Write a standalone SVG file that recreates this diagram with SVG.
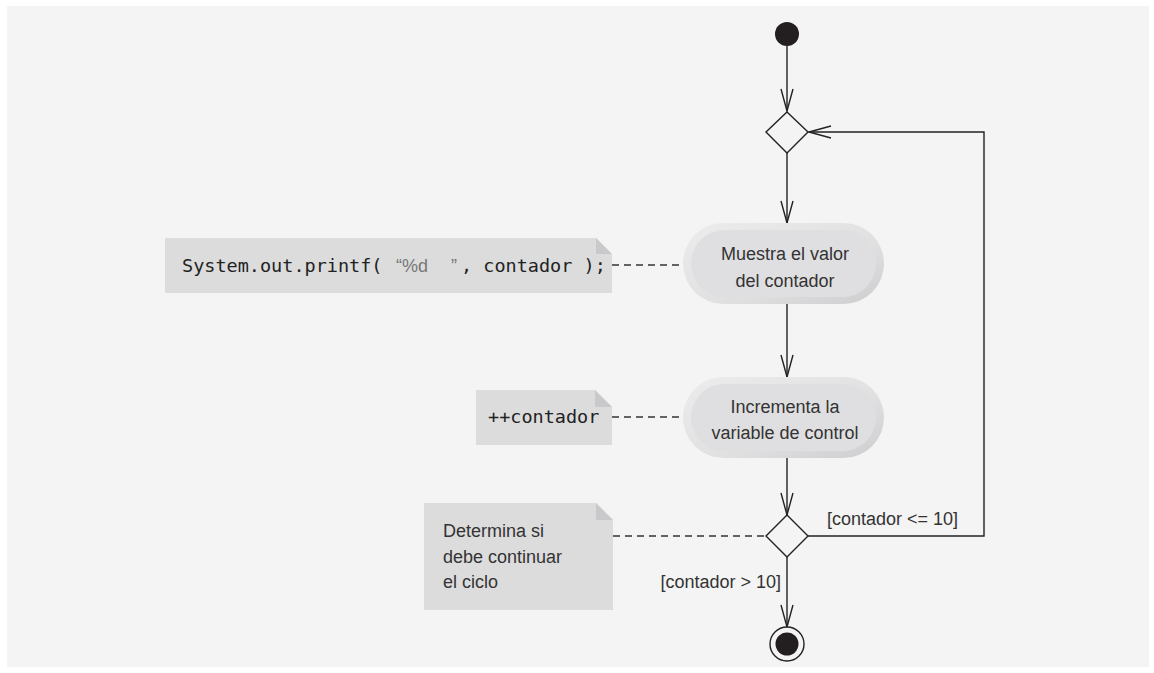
<svg xmlns="http://www.w3.org/2000/svg" width="1154" height="673" viewBox="0 0 1154 673">
<style>
.ln{fill:none;stroke:#222;stroke-width:1.4}
.dash{fill:none;stroke:#333;stroke-width:1.3;stroke-dasharray:7 5}
.note{fill:#dcdcdd}
.fold{fill:#c9c9cb}
.lbl{font-family:"Liberation Sans",Arial,sans-serif;font-size:18px;fill:#333}
.code{font-family:"DejaVu Sans Mono",monospace;font-size:18.5px;fill:#222}
.q{font-family:"Liberation Sans",Arial,sans-serif;font-size:18px;fill:#777}
.dia{fill:#f4f4f4;stroke:#222;stroke-width:1.4}
</style>
<defs>
<marker id="v" viewBox="0 0 24 14" refX="23" refY="7" markerWidth="24" markerHeight="14" markerUnits="userSpaceOnUse" orient="auto">
<path d="M1,1 L23,7 L1,13" fill="none" stroke="#222" stroke-width="1.4"/>
</marker>
<linearGradient id="ring" x1="0" y1="0" x2="1" y2="1">
<stop offset="0" stop-color="#ececec"/>
<stop offset="0.6" stop-color="#e0e0e1"/>
<stop offset="1" stop-color="#cdcdcf"/>
</linearGradient>
</defs>
<rect x="7" y="6" width="1142" height="661" fill="#f4f4f4"/>

<g id="connectors">
<line class="ln" x1="787" y1="46" x2="787" y2="111" marker-end="url(#v)"/>
<line class="ln" x1="787" y1="153" x2="787" y2="223" marker-end="url(#v)"/>
<line class="ln" x1="787" y1="304" x2="787" y2="377" marker-end="url(#v)"/>
<line class="ln" x1="787" y1="458" x2="787" y2="515" marker-end="url(#v)"/>
<line class="ln" x1="787" y1="556" x2="787" y2="627" marker-end="url(#v)"/>
<polyline class="ln" points="808,536 984,536 984,132 809,132" marker-end="url(#v)"/>
<line class="dash" x1="612" y1="265" x2="683" y2="265"/>
<line class="dash" x1="612" y1="417" x2="683" y2="417"/>
<line class="dash" x1="613" y1="536" x2="766" y2="536"/>
<text class="lbl" x="827" y="525">[contador &lt;= 10]</text>
<text class="lbl" x="781" y="588" text-anchor="end">[contador &gt; 10]</text>
</g>

<g id="start">
<circle cx="787" cy="34" r="12" fill="#231f20"/>
</g>

<g id="merge">
<polygon class="dia" points="787,112 808,132 787,153 766,132"/>
</g>

<g id="node-muestra">
<rect x="683" y="223" width="201" height="81" rx="40.5" fill="url(#ring)"/>
<rect x="691" y="230" width="185" height="67" rx="33.5" fill="#dfdfe1"/>
<text class="lbl" x="785" y="260" text-anchor="middle">Muestra el valor</text>
<text class="lbl" x="785" y="287" text-anchor="middle">del contador</text>
</g>

<g id="node-incrementa">
<rect x="683" y="377" width="201" height="81" rx="40.5" fill="url(#ring)"/>
<rect x="691" y="384" width="185" height="67" rx="33.5" fill="#dfdfe1"/>
<text class="lbl" x="785" y="413" text-anchor="middle">Incrementa la</text>
<text class="lbl" x="785" y="439" text-anchor="middle">variable de control</text>
</g>

<g id="decision">
<polygon class="dia" points="787,515 808,536 787,557 766,536"/>
</g>

<g id="end">
<circle cx="787" cy="644" r="17" fill="#f4f4f4" stroke="#222" stroke-width="1.4"/>
<circle cx="787" cy="644" r="11.5" fill="#231f20"/>
</g>

<g id="note-printf">
<path class="note" d="M165,238 H596 L612,254 V293 H165 Z"/>
<path class="fold" d="M596,238 L612,254 H596 Z"/>
<text class="code" x="182" y="272">System.out.printf(<tspan x="396" class="q">“%d</tspan><tspan x="451" class="q">”</tspan><tspan x="461">, contador );</tspan></text>
</g>

<g id="note-incr">
<path class="note" d="M476,390 H595 L612,407 V445 H476 Z"/>
<path class="fold" d="M595,390 L612,407 H595 Z"/>
<text class="code" x="488" y="423">++contador</text>
</g>

<g id="note-determina">
<path class="note" d="M424,503 H596 L613,520 V610 H424 Z"/>
<path class="fold" d="M596,503 L613,520 H596 Z"/>
<text class="lbl" x="443" y="537">Determina si</text>
<text class="lbl" x="443" y="563">debe continuar</text>
<text class="lbl" x="443" y="588">el ciclo</text>
</g>
</svg>
